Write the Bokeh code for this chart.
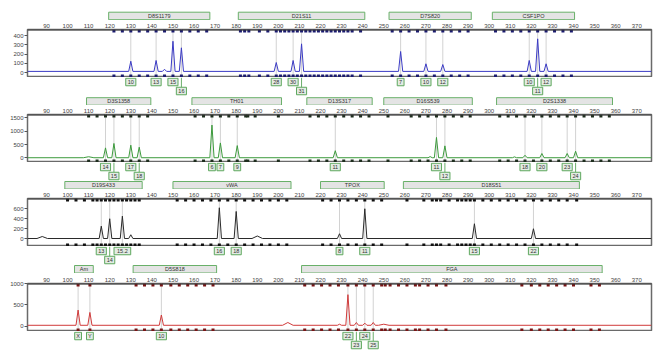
from bokeh.plotting import figure
from bokeh.layouts import column
from bokeh.models import Range1d, FixedTicker
from bokeh.embed import file_html
from bokeh.resources import INLINE
from bokeh.core.properties import value

FONT = "Liberation Sans"
X_TICKS = [90, 100, 110, 120, 130, 140, 150, 160, 170, 180, 190, 200, 210, 220, 230,
           240, 250, 260, 270, 280, 290, 300, 310, 320, 330, 340, 350, 360, 370]

# ---------------- panel 1 (blue) ----------------
P1_LOCI = ["D8S1179", "D21S11", "D7S820", "CSF1PO"]
P1_LOCI_FROM = [119.5, 181.0, 252.5, 301.5]
P1_LOCI_TO = [167.5, 241.0, 291.5, 340.5]
P1_BINS = [122, 126, 130, 134, 138, 142, 146, 150, 154, 158, 162, 166,
           182, 184, 186, 191, 195, 199, 201, 203, 205, 207, 209, 211, 213, 215, 217,
           219, 221, 223, 225, 227, 229, 231, 233, 235, 239,
           254, 258, 262, 266, 270, 274, 278, 282, 286, 290,
           303, 307, 311, 315, 319, 323, 327, 331, 335, 339]
P1_PEAK_BP = [130, 142, 146, 150, 154, 199, 207, 211, 258, 270, 278, 319, 323, 327]
P1_PEAK_RFU = [122, 130, 35, 338, 267, 108, 130, 310, 227, 94, 86, 130, 364, 94]
P1_BUMP_BP = []
P1_BUMP_RFU = []
P1_ALLELE_BP = [130, 142, 150, 154, 199, 207, 211, 258, 270, 278, 319, 323, 327]
P1_ALLELE = ["10", "13", "15", "16", "28", "30", "31", "7", "10", "12", "10", "11", "12"]
P1_ROW = [1, 1, 1, 2, 1, 1, 2, 1, 1, 1, 1, 2, 1]
P1_Y_TICKS = [0, 100, 200, 300, 400]
P1_BASE = 12

# ---------------- panel 2 (green) ----------------
P2_LOCI = ["D3S1358", "TH01", "D13S317", "D16S539", "D2S1338"]
P2_LOCI_FROM = [109.0, 159.0, 213.5, 250.0, 303.5]
P2_LOCI_TO = [139.5, 201.5, 244.5, 292.0, 358.5]
P2_BINS = [110, 114, 118, 122, 126, 130, 134, 138,
           160.5, 164.5, 168.5, 172.5, 176.5, 180.5, 184.5, 185.5, 189, 200,
           215, 219, 223, 227, 231, 235, 239, 243,
           252, 263, 267, 271, 275, 279, 283, 287, 291,
           305, 309, 313, 317, 321, 325, 329, 333, 337, 341, 345, 349, 353, 357]
P2_PEAK_BP = [118, 122, 130, 134, 168.5, 172.5, 180.5, 227, 272, 275, 279, 312, 317, 325, 337, 341]
P2_PEAK_RFU = [375, 540, 476, 400, 1226, 560, 460, 270, 50, 765, 450, 40, 100, 165, 165, 250]
P2_BUMP_BP = [110]
P2_BUMP_RFU = [45]
P2_ALLELE_BP = [118, 122, 130, 134, 168.5, 172.5, 180.5, 227, 275, 279, 317, 325, 337, 341]
P2_ALLELE = ["14", "15", "17", "18", "6", "7", "9", "11", "11", "12", "18", "20", "23", "24"]
P2_ROW = [1, 2, 1, 2, 1, 1, 1, 1, 1, 2, 1, 1, 1, 2]
P2_Y_TICKS = [0, 500, 1000, 1500]
P2_BASE = 8

# ---------------- panel 3 (black) ----------------
P3_LOCI = ["D19S433", "vWA", "TPOX", "D18S51"]
P3_LOCI_FROM = [98.7, 150.0, 220.0, 259.3]
P3_LOCI_TO = [135.4, 206.0, 250.2, 342.8]
P3_BINS = [100, 104, 108, 112, 114, 116, 118, 120, 122, 124, 126, 128, 130, 132, 134,
           152, 156, 160, 164, 168, 172, 176, 180, 184, 188, 192, 196, 200, 204,
           221, 225, 229, 233, 237, 241, 245, 249,
           261, 269, 273, 275, 277, 281, 285, 287, 289, 291, 293, 297, 301, 305, 309,
           313, 317, 321, 325, 329, 333, 337, 341.5]
P3_PEAK_BP = [116, 120, 126, 130, 172, 180, 229, 241, 293, 321]
P3_PEAK_RFU = [252, 400, 452, 80, 620, 546, 100, 600, 300, 200]
P3_BUMP_BP = [88, 190]
P3_BUMP_RFU = [45, 55]
P3_ALLELE_BP = [116, 120, 126, 172, 180, 229, 241, 293, 321]
P3_ALLELE = ["13", "14", "15.2", "16", "18", "8", "11", "15", "22"]
P3_ROW = [1, 2, 1, 1, 1, 1, 1, 1, 1]
P3_Y_TICKS = [0, 200, 400, 600]
P3_BASE = 5

# ---------------- panel 4 (red) ----------------
P4_LOCI = ["Am", "D5S818", "FGA"]
P4_LOCI_FROM = [103.3, 131.1, 211.0]
P4_LOCI_TO = [112.2, 170.7, 353.6]
P4_BINS = [105, 110.6,
           132.5, 136.5, 140.5, 144.5, 149, 153, 157, 161, 165, 169,
           212.5, 216.5, 220.5, 224.5, 228.5, 233, 237, 241, 245, 249, 250.7, 253, 257,
           261, 265, 267, 271, 275, 279.5, 315.5, 320, 324, 328, 332, 336, 340, 348.3, 352.3]
P4_PEAK_BP = [105, 110.6, 144.5, 229, 233, 237, 241, 245]
P4_PEAK_RFU = [380, 325, 265, 50, 740, 90, 75, 90]
P4_BUMP_BP = [204.5, 250]
P4_BUMP_RFU = [90, 50]
P4_ALLELE_BP = [105, 110.6, 144.5, 233, 237, 241, 245]
P4_ALLELE = ["X", "Y", "10", "22", "23", "24", "25"]
P4_ROW = [1, 1, 1, 1, 2, 1, 2]
P4_Y_TICKS = [0, 500, 1000]
P4_BASE = 25

# ---------------- layout / style ----------------
W = 664
X_START, X_END = 81, 377
LEFT, RIGHT = 27, 13
x_range = Range1d(X_START, X_END)

PANELS = [
    dict(loci=(P1_LOCI, P1_LOCI_FROM, P1_LOCI_TO), bins=P1_BINS, peaks=(P1_PEAK_BP, P1_PEAK_RFU),
         bumps=(P1_BUMP_BP, P1_BUMP_RFU), alleles=(P1_ALLELE_BP, P1_ALLELE, P1_ROW),
         yticks=P1_Y_TICKS, base=P1_BASE, yr=(-54, 465), color="#3b3bc4", mcolor="#1c1c70", h=57),
    dict(loci=(P2_LOCI, P2_LOCI_FROM, P2_LOCI_TO), bins=P2_BINS, peaks=(P2_PEAK_BP, P2_PEAK_RFU),
         bumps=(P2_BUMP_BP, P2_BUMP_RFU), alleles=(P2_ALLELE_BP, P2_ALLELE, P2_ROW),
         yticks=P2_Y_TICKS, base=P2_BASE, yr=(-170, 1620), color="#3c9a3c", mcolor="#1e2e1e", h=57),
    dict(loci=(P3_LOCI, P3_LOCI_FROM, P3_LOCI_TO), bins=P3_BINS, peaks=(P3_PEAK_BP, P3_PEAK_RFU),
         bumps=(P3_BUMP_BP, P3_BUMP_RFU), alleles=(P3_ALLELE_BP, P3_ALLELE, P3_ROW),
         yticks=P3_Y_TICKS, base=P3_BASE, yr=(-155, 805), color="#2a2a2a", mcolor="#111111", h=57),
    dict(loci=(P4_LOCI, P4_LOCI_FROM, P4_LOCI_TO), bins=P4_BINS, peaks=(P4_PEAK_BP, P4_PEAK_RFU),
         bumps=(P4_BUMP_BP, P4_BUMP_RFU), alleles=(P4_ALLELE_BP, P4_ALLELE, P4_ROW),
         yticks=P4_Y_TICKS, base=P4_BASE, yr=(-120, 1000), color="#d03a3a", mcolor="#7a1515", h=58),
]
# gap figures: (height, y of locus box top for panel below)
GAPS = [(20, 11.7), (28, 20.2), (27, 19.0), (27, 19.0), (23, None)]
BOX_H = 7.5
ROW_Y = {1: 4.5, 2: 13.5}


def gap_figure(h):
    p = figure(width=W, height=h, x_range=x_range, y_range=Range1d(h, 0),
               output_backend="svg", toolbar_location=None,
               x_axis_location=None, y_axis_location=None,
               min_border_left=LEFT, min_border_right=RIGHT, min_border_top=0, min_border_bottom=0)
    p.outline_line_color = None
    p.grid.visible = False
    p.background_fill_color = "white"
    return p


def draw_alleles(p, panel):
    bp, lab, row = panel["alleles"]
    ys = [ROW_Y[r] for r in row]
    widths = [3.3 * len(t) + 3.5 for t in lab]
    # connectors for second row
    r2x = [b for b, r in zip(bp, row) if r == 2]
    if r2x:
        p.segment(x0=r2x, y0=[0] * len(r2x), x1=r2x, y1=[ROW_Y[2] - BOX_H / 2] * len(r2x),
                  line_color="#6aae6a", line_width=1)
    p.rect(x=bp, y=ys, width=widths, height=BOX_H, width_units="screen",
           fill_color="#e3ebe3", line_color="#5ea85e", line_width=1)
    p.text(x=bp, y=ys, text=lab, text_align="center", text_baseline="middle",
           text_font=value(FONT), text_font_size="5.5px", text_color="#333333")


def draw_loci(p, panel, top):
    names, f, t = panel["loci"]
    p.quad(left=f, right=t, top=[top] * len(f), bottom=[top + BOX_H] * len(f),
           fill_color="#e4e4e4", line_color="#69b069", line_width=1)
    p.text(x=[(a + b) / 2 for a, b in zip(f, t)], y=[top + BOX_H / 2] * len(f), text=names,
           text_align="center", text_baseline="middle", text_font=value(FONT),
           text_font_size="5.5px", text_color="#333333")


def trace_points(panel):
    feats = [(b, r, 1.0) for b, r in zip(*panel["peaks"])] + \
            [(b, r, 2.5) for b, r in zip(*panel["bumps"])]
    feats.sort()
    base = panel["base"]
    xs, ys = [X_START], [base]
    for b, r, w in feats:
        xs += [b - w, b, b + w]
        ys += [base, r, base]
    xs.append(X_END)
    ys.append(base)
    return xs, ys


def main_figure(panel):
    h = panel["h"]
    p = figure(width=W, height=h, x_range=x_range, y_range=Range1d(*panel["yr"]),
               output_backend="svg", toolbar_location=None, x_axis_location="above",
               min_border_left=LEFT, min_border_right=RIGHT, min_border_top=h - 48, min_border_bottom=0)
    p.extra_y_ranges = {"px": Range1d(48, 0)}
    p.grid.visible = False
    p.outline_line_color = "#6a6a6a"
    p.outline_line_width = 1.5
    p.background_fill_color = "white"

    ax = p.xaxis[0]
    ax.ticker = FixedTicker(ticks=X_TICKS)
    ax.axis_line_color = None
    ax.major_tick_line_color = None
    ax.minor_tick_line_color = None
    ax.major_tick_out = 0
    ax.major_tick_in = 0
    ax.major_label_standoff = 2
    ax.major_label_text_font = FONT
    ax.major_label_text_font_size = "6px"
    ax.major_label_text_color = "#444444"

    ay = p.yaxis[0]
    ay.ticker = FixedTicker(ticks=panel["yticks"])
    ay.axis_line_color = None
    ay.minor_tick_line_color = None
    ay.major_tick_out = 3
    ay.major_tick_in = 0
    ay.major_tick_line_color = "#555555"
    ay.major_label_standoff = 1
    ay.major_label_text_font = FONT
    ay.major_label_text_font_size = "6px"
    ay.major_label_text_color = "#444444"

    bp = panel["alleles"][0]
    p.segment(x0=bp, y0=[0] * len(bp), x1=bp, y1=[48] * len(bp), y_range_name="px",
              line_color="#d2d2d2", line_width=1)
    xs, ys = trace_points(panel)
    p.line(xs, ys, line_color=panel["color"], line_width=1)
    bins = panel["bins"]
    p.scatter(x=bins, y=[1.6] * len(bins), y_range_name="px", marker="square", size=3,
              fill_color=panel["mcolor"], line_color=None)
    p.scatter(x=bins, y=[46.4] * len(bins), y_range_name="px", marker="square", size=3,
              fill_color=panel["mcolor"], line_color=None)
    # dark top rule
    p.segment(x0=[X_START], y0=[0.4], x1=[X_END], y1=[0.4], y_range_name="px",
              line_color="#333333", line_width=1.2)
    return p


figs = []
for i in range(5):
    gh, box_top = GAPS[i]
    g = gap_figure(gh)
    if i > 0:
        draw_alleles(g, PANELS[i - 1])
    if i < 4:
        draw_loci(g, PANELS[i], box_top)
    figs.append(g)
    if i < 4:
        figs.append(main_figure(PANELS[i]))

layout = column(*figs, spacing=0)
open("out.html", "w").write(file_html(layout, INLINE))
